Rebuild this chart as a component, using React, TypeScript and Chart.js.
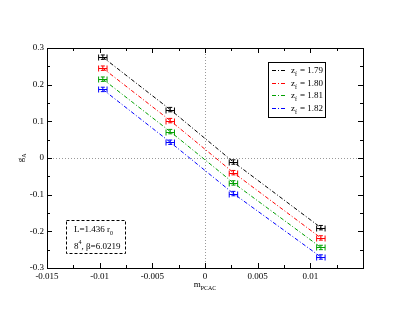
import React, { useEffect, useRef } from "react";
import { Chart, registerables } from "chart.js";
Chart.register(...registerables);

const xValues = [-0.0097, -0.0033, 0.0027, 0.011];
const xErrors = [0.0004, 0.0004, 0.0004, 0.0004];
const seriesLabels = ["1.79", "1.80", "1.81", "1.82"];
const series179 = [0.275, 0.132, -0.011, -0.19];
const series180 = [0.245, 0.102, -0.04, -0.218];
const series181 = [0.215, 0.072, -0.068, -0.244];
const series182 = [0.187, 0.043, -0.097, -0.27];
const yErrors179 = [0.006, 0.006, 0.006, 0.006];
const yErrors180 = [0.006, 0.006, 0.006, 0.006];
const yErrors181 = [0.006, 0.006, 0.006, 0.006];
const yErrors182 = [0.006, 0.006, 0.006, 0.006];
const seriesColors = ["#000000", "#ff0000", "#00a000", "#0000ff"];
const xTicks = [-0.015, -0.01, -0.005, 0, 0.005, 0.01];
const yTicks = [-0.3, -0.2, -0.1, 0, 0.1, 0.2, 0.3];

const allSeries = [series179, series180, series181, series182];
const allYErr = [yErrors179, yErrors180, yErrors181, yErrors182];
const FONT = "'Liberation Serif', 'DejaVu Serif', serif";
const DASH = [4, 2, 1, 2];

const decorPlugin = {
  id: "decor",
  beforeDatasetsDraw(chart: any) {
    const { ctx, chartArea: a, scales } = chart;
    const xs = scales.x, ys = scales.y;
    ctx.save();
    ctx.strokeStyle = "#999999";
    ctx.lineWidth = 1;
    ctx.setLineDash([1, 2]);
    const x0 = Math.round(xs.getPixelForValue(0)) + 0.5;
    const y0 = Math.round(ys.getPixelForValue(0)) + 0.5;
    ctx.beginPath();
    ctx.moveTo(x0, a.top);
    ctx.lineTo(x0, a.bottom);
    ctx.moveTo(a.left, y0);
    ctx.lineTo(a.right, y0);
    ctx.stroke();
    ctx.restore();
  },
  afterDatasetsDraw(chart: any) {
    const { ctx, chartArea: a, scales } = chart;
    const xs = scales.x, ys = scales.y;
    ctx.save();
    ctx.lineWidth = 1;
    ctx.setLineDash([]);
    allSeries.forEach((s, si) => {
      ctx.strokeStyle = seriesColors[si];
      s.forEach((v, i) => {
        const px = xs.getPixelForValue(xValues[i]);
        const py = Math.round(ys.getPixelForValue(v)) + 0.5;
        const pl = xs.getPixelForValue(xValues[i] - xErrors[i]);
        const pr = xs.getPixelForValue(xValues[i] + xErrors[i]);
        const pt = ys.getPixelForValue(v + allYErr[si][i]);
        const pb = ys.getPixelForValue(v - allYErr[si][i]);
        ctx.beginPath();
        ctx.moveTo(pl, py);
        ctx.lineTo(pr, py);
        ctx.moveTo(pl, py - 3);
        ctx.lineTo(pl, py + 3);
        ctx.moveTo(pr, py - 3);
        ctx.lineTo(pr, py + 3);
        ctx.moveTo(px, pt);
        ctx.lineTo(px, pb);
        ctx.moveTo(px - 2, pt);
        ctx.lineTo(px + 2, pt);
        ctx.moveTo(px - 2, pb);
        ctx.lineTo(px + 2, pb);
        ctx.stroke();
      });
    });
    // frame
    ctx.strokeStyle = "#000";
    ctx.lineWidth = 1;
    ctx.strokeRect(Math.round(a.left) + 0.5, Math.round(a.top) + 0.5, Math.round(a.right - a.left), Math.round(a.bottom - a.top));
    // ticks
    ctx.beginPath();
    for (let k = 0; k <= 12; k++) {
      const v = -0.015 + k * 0.0025;
      const len = k % 2 === 0 ? 5 : 3;
      const p = Math.round(xs.getPixelForValue(v)) + 0.5;
      ctx.moveTo(p, a.bottom);
      ctx.lineTo(p, a.bottom - len);
      ctx.moveTo(p, a.top);
      ctx.lineTo(p, a.top + len);
    }
    for (let k = 0; k <= 12; k++) {
      const v = -0.3 + k * 0.05;
      const len = k % 2 === 0 ? 5 : 3;
      const p = Math.round(ys.getPixelForValue(v)) + 0.5;
      ctx.moveTo(a.left, p);
      ctx.lineTo(a.left + len, p);
      ctx.moveTo(a.right, p);
      ctx.lineTo(a.right - len, p);
    }
    ctx.stroke();
    ctx.restore();
  },
  afterDraw(chart: any) {
    const { ctx, chartArea: a } = chart;
    ctx.save();
    ctx.fillStyle = "#000";
    // axis titles
    ctx.textBaseline = "alphabetic";
    ctx.textAlign = "left";
    const cx = (a.left + a.right) / 2;
    ctx.font = `9px ${FONT}`;
    const mw = ctx.measureText("m").width;
    ctx.font = `6px ${FONT}`;
    const sw = ctx.measureText("PCAC").width;
    const sx = cx - (mw + sw) / 2;
    ctx.font = `9px ${FONT}`;
    ctx.fillText("m", sx, 287);
    ctx.font = `6px ${FONT}`;
    ctx.fillText("PCAC", sx + mw, 290);

    ctx.save();
    ctx.translate(23, (a.top + a.bottom) / 2);
    ctx.rotate(-Math.PI / 2);
    ctx.font = `9px ${FONT}`;
    const gw = ctx.measureText("g").width;
    ctx.fillText("g", -(gw + 4) / 2, 0);
    ctx.font = `6px ${FONT}`;
    ctx.fillText("A", -(gw + 4) / 2 + gw, 3);
    ctx.restore();

    // legend box
    ctx.strokeStyle = "#000";
    ctx.lineWidth = 1;
    ctx.setLineDash([]);
    ctx.strokeRect(268.5, 62.5, 57, 55);
    const rowY = [70, 82.5, 95, 107.5];
    seriesLabels.forEach((lab, i) => {
      ctx.strokeStyle = seriesColors[i];
      ctx.setLineDash(DASH);
      ctx.beginPath();
      ctx.moveTo(272, Math.round(rowY[i]) + 0.5);
      ctx.lineTo(286, Math.round(rowY[i]) + 0.5);
      ctx.stroke();
      ctx.fillStyle = "#000";
      ctx.font = `9px ${FONT}`;
      ctx.fillText("z", 291, rowY[i] + 3);
      const zw = ctx.measureText("z").width;
      ctx.font = `6px ${FONT}`;
      ctx.fillText("f", 291 + zw, rowY[i] + 6);
      ctx.font = `9px ${FONT}`;
      ctx.fillText("= " + lab, 291 + zw + 5, rowY[i] + 3);
    });

    // info box
    ctx.setLineDash([3, 2]);
    ctx.strokeStyle = "#000";
    ctx.strokeRect(66.5, 220.5, 59, 33);
    ctx.setLineDash([]);
    ctx.font = `9px ${FONT}`;
    ctx.fillText("L=1.436 r", 74, 232);
    const lw = ctx.measureText("L=1.436 r").width;
    ctx.font = `6px ${FONT}`;
    ctx.fillText("0", 74 + lw, 235);
    ctx.font = `9px ${FONT}`;
    ctx.fillText("8", 74, 249);
    const ew = ctx.measureText("8").width;
    ctx.font = `6px ${FONT}`;
    ctx.fillText("4", 74 + ew, 244);
    ctx.font = `9px ${FONT}`;
    ctx.fillText(", \u03b2=6.0219", 74 + ew + 3, 249);
    ctx.restore();
  },
};

export default function App() {
  const ref = useRef<HTMLCanvasElement>(null);
  useEffect(() => {
    const datasets = allSeries.map((s, i) => ({
      label: "z_f = " + seriesLabels[i],
      data: s.map((v, j) => ({ x: xValues[j], y: v })),
      showLine: true,
      borderColor: seriesColors[i],
      borderWidth: 1,
      borderDash: DASH,
      pointRadius: 0,
      fill: false,
    }));
    const chart = new Chart(ref.current!, {
      type: "scatter",
      data: { datasets },
      options: {
        responsive: false,
        animation: false,
        layout: { padding: { left: 0, right: 46, top: 48, bottom: 0 } },
        plugins: { legend: { display: false }, tooltip: { enabled: false } },
        scales: {
          x: {
            type: "linear",
            min: -0.015,
            max: 0.015,
            afterFit: (s: any) => { s.height = 48; },
            afterBuildTicks: (s: any) => { s.ticks = xTicks.map((v) => ({ value: v })); },
            grid: { display: false, drawTicks: false, tickLength: 0 },
            border: { display: false },
            ticks: {
              color: "#000",
              font: { family: FONT, size: 9 },
              padding: 3,
              maxRotation: 0,
              autoSkip: false,
              callback: (v: any) => String(Math.round(Number(v) * 1000) / 1000),
            },
          },
          y: {
            type: "linear",
            min: -0.3,
            max: 0.3,
            afterFit: (s: any) => { s.width = 47; },
            afterBuildTicks: (s: any) => { s.ticks = yTicks.map((v) => ({ value: v })); },
            grid: { display: false, drawTicks: false, tickLength: 0 },
            border: { display: false },
            ticks: {
              color: "#000",
              font: { family: FONT, size: 9 },
              padding: 3,
              autoSkip: false,
              callback: (v: any) => String(Math.round(Number(v) * 10) / 10),
            },
          },
        },
      },
      plugins: [decorPlugin],
    });
    return () => chart.destroy();
  }, []);
  return (
    <div style={{ position: "fixed", left: 0, top: 0, width: 409, height: 316, background: "#fff" }}>
      <canvas ref={ref} width={409} height={316} style={{ width: 409, height: 316 }} />
    </div>
  );
}
